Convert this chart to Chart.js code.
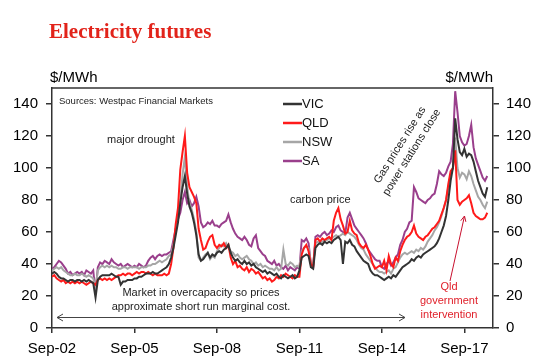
<!DOCTYPE html>
<html lang="en">
<head>
  <meta charset="UTF-8" />
  <title>Electricity futures</title>
  <script src="https://cdn.jsdelivr.net/npm/chart.js"></script>
  <style>
    html, body { margin: 0; padding: 0; background: #fff; }
    canvas { display: block; }
  </style>
</head>
<body>
  <canvas id="chart" width="540" height="364"></canvas>

  <script>
    // monthly values, month 0 = Sep-02
    const vic = [
      34,35,34,32,31,31,30,29,30,30,29,30,
      30,29,30,29,30,29,28,19,30,32,33,33,
      33,33,34,33,32,32,27,29,29,30,30,30,
      31,31,32,32,33,34,34,34,35,34,34,35,
      36,37,38,40,44,50,58,66,78,88,95,84,
      76,72,66,58,46,42,43,45,47,44,46,45,
      47,48,47,49,50,52,47,44,42,43,41,40,
      42,40,41,39,40,38,37,36,35,36,34,35,
      34,33,34,32,31,33,32,31,32,33,31,32,
      36,44,45,46,45,38,37,50,52,53,52,54,
      53,54,53,55,56,57,55,40,54,53,55,52,
      51,48,46,44,42,41,40,36,34,33,33,32,
      31,30,31,32,31,33,32,34,36,38,39,40,
      41,43,42,44,45,44,46,47,48,49,50,51,
      53,56,60,64,70,80,92,100,131,118,110,108,
      112,107,109,108,104,98,92,88,84,82,88
    ];
    const qld = [
      32,33,31,30,29,30,28,29,28,29,28,29,
      28,29,28,27,28,29,28,27,30,31,30,31,
      30,31,30,31,32,33,33,34,33,34,34,33,
      34,35,34,35,35,34,35,34,33,34,33,33,
      33,34,33,34,40,50,65,75,99,110,120,97,
      88,85,82,78,62,55,49,50,54,57,58,52,
      50,52,51,53,50,52,44,40,42,38,39,37,
      36,38,35,37,36,34,35,33,31,32,30,31,
      29,30,32,31,33,32,34,33,32,31,33,32,
      32,46,50,52,48,40,38,55,56,54,56,55,
      56,57,55,67,72,75,68,64,59,60,67,61,
      59,58,53,51,50,52,49,45,40,37,38,39,
      38,42,36,45,40,38,44,42,48,52,55,57,
      58,60,64,59,57,56,55,57,58,60,62,63,
      65,67,71,75,80,90,98,100,111,80,77,79,
      80,81,83,78,72,70,69,68,68,69,72
    ];
    const nsw = [
      36,37,38,37,38,36,35,34,33,33,34,33,
      33,34,33,32,33,32,31,25,36,38,39,38,
      39,38,39,38,38,37,37,38,38,37,38,38,
      38,38,37,38,38,38,39,39,40,40,41,42,
      41,42,43,45,46,52,62,70,80,96,107,88,
      78,74,68,60,44,42,44,46,47,43,45,44,
      48,50,52,51,53,50,48,47,45,46,44,43,
      44,45,43,42,40,41,39,40,38,39,38,37,
      37,36,38,36,37,49,40,39,41,40,38,39,
      38,48,50,51,50,41,40,53,54,53,54,55,
      55,56,56,57,58,57,58,59,58,60,59,58,
      57,55,52,50,49,46,44,42,40,38,36,35,
      35,34,35,36,34,37,38,41,44,46,47,46,
      47,48,47,49,48,50,49,51,54,56,58,61,
      63,66,70,75,80,88,96,100,119,100,94,97,
      96,93,98,95,90,86,82,80,77,75,79
    ];
    const sa = [
      37,38,40,42,41,39,37,34,35,33,34,35,
      34,35,33,36,35,34,36,22,38,41,40,42,
      41,40,43,41,40,39,40,38,39,40,39,38,
      39,38,40,39,38,39,42,44,45,43,45,46,
      45,46,46,47,48,55,62,68,72,80,85,78,
      80,76,78,82,76,66,63,64,66,65,67,64,
      64,63,65,66,67,71,66,62,59,57,56,55,
      57,55,52,51,56,58,50,48,46,45,42,41,
      40,42,39,40,38,37,39,36,38,37,36,38,
      37,55,54,56,53,40,38,57,58,57,59,60,
      58,59,61,60,63,64,61,60,59,69,72,68,
      64,62,60,58,56,53,49,47,45,43,42,42,
      38,37,40,42,39,41,44,46,52,55,60,62,
      66,67,88,85,81,80,79,78,80,81,83,84,
      90,98,96,95,97,101,104,115,148,135,120,116,
      114,115,120,127,113,106,102,98,94,92,95
    ];

    const seriesNames = ['VIC', 'QLD', 'NSW', 'SA'];
    const seriesColors = ['#333333', '#ff1a1a', '#a6a6a6', '#9a3f8c'];
    const xTickMonths = [0, 36, 72, 108, 144, 180];
    const xTickLabels = ['Sep-02', 'Sep-05', 'Sep-08', 'Sep-11', 'Sep-14', 'Sep-17'];
    const yTicks = [0, 20, 40, 60, 80, 100, 120, 140];

    const FONT = "'Liberation Sans', Arial, sans-serif";

    const toPoints = arr => arr.map((v, i) => ({ x: i, y: v }));

    // texts, legend, frame and arrows
    const extras = {
      id: 'extras',
      afterDraw(chart) {
        const c = chart.ctx;
        const a = chart.chartArea;
        c.save();

        // top border of the box
        c.strokeStyle = '#333';
        c.lineWidth = 1.5;
        c.beginPath();
        c.moveTo(a.left, a.top);
        c.lineTo(a.right, a.top);
        c.stroke();

        // title
        c.fillStyle = '#e2231a';
        c.font = "bold 21px 'Liberation Serif', 'Times New Roman', serif";
        c.textAlign = 'left';
        c.textBaseline = 'alphabetic';
        c.fillText('Electricity futures', 49, 38);

        // unit labels
        c.fillStyle = '#000';
        c.font = '15px ' + FONT;
        c.textBaseline = 'middle';
        c.fillText('$/MWh', 50, 78);
        c.textAlign = 'right';
        c.fillText('$/MWh', 493, 78);

        // source
        c.textAlign = 'left';
        c.fillStyle = '#222';
        c.font = '9.5px ' + FONT;
        c.fillText('Sources: Westpac Financial Markets', 59, 101);

        // legend
        c.font = '13px ' + FONT;
        seriesNames.forEach((name, i) => {
          const y = 104 + i * 19;
          c.strokeStyle = seriesColors[i];
          c.lineWidth = 2.5;
          c.beginPath();
          c.moveTo(283, y);
          c.lineTo(302, y);
          c.stroke();
          c.fillStyle = '#111';
          c.fillText(name, 302, y);
        });

        // annotations
        c.fillStyle = '#222';
        c.font = '11px ' + FONT;
        c.fillText('major drought', 107, 140);
        c.fillText('carbon price', 290, 200);

        c.textAlign = 'center';
        c.fillText('Market in overcapacity so prices', 201, 293);
        c.fillText('approximate short run marginal cost.', 201, 307);

        c.save();
        c.translate(400, 145);
        c.rotate(-58 * Math.PI / 180);
        c.fillText('Gas prices rise as', 0, 0);
        c.fillText('power stations close', 0, 14);
        c.restore();

        c.fillStyle = '#e0202a';
        c.fillText('Qld', 449, 287);
        c.fillText('government', 449, 301);
        c.fillText('intervention', 449, 315);

        // horizontal double arrow
        c.strokeStyle = '#444';
        c.lineWidth = 1;
        c.beginPath();
        c.moveTo(57, 317.5);
        c.lineTo(405, 317.5);
        c.moveTo(63, 314);
        c.lineTo(57, 317.5);
        c.lineTo(63, 321);
        c.moveTo(399, 314);
        c.lineTo(405, 317.5);
        c.lineTo(399, 321);
        c.stroke();

        // red arrow to the Qld drop
        const x0 = 450, y0 = 281, x1 = 464.5, y1 = 216;
        const ang = Math.atan2(y1 - y0, x1 - x0);
        c.strokeStyle = '#c8102e';
        c.beginPath();
        c.moveTo(x0, y0);
        c.lineTo(x1, y1);
        c.moveTo(x1 - 6 * Math.cos(ang - 0.45), y1 - 6 * Math.sin(ang - 0.45));
        c.lineTo(x1, y1);
        c.lineTo(x1 - 6 * Math.cos(ang + 0.45), y1 - 6 * Math.sin(ang + 0.45));
        c.stroke();

        c.restore();
      }
    };

    const yAxis = (pos, width, pad) => ({
      position: pos,
      min: 0,
      max: 150,
      afterBuildTicks: s => { s.ticks = yTicks.map(v => ({ value: v })); },
      afterFit: s => { s.width = width; },
      ticks: { color: '#000', font: { family: FONT, size: 15 }, padding: pad },
      grid: { drawOnChartArea: false, tickLength: 6, color: '#333', lineWidth: 1.5 },
      border: { color: '#333', width: 1.5 }
    });

    new Chart(document.getElementById('chart').getContext('2d'), {
      type: 'line',
      data: {
        datasets: [vic, qld, nsw, sa].map((arr, i) => ({
          label: seriesNames[i],
          data: toPoints(arr),
          borderColor: seriesColors[i],
          borderWidth: 2,
          pointRadius: 0,
          tension: 0,
          yAxisID: 'y'
        }))
      },
      options: {
        responsive: false,
        animation: false,
        devicePixelRatio: 1,
        layout: { padding: { top: 88, left: 0, right: 0, bottom: 0 } },
        plugins: { legend: { display: false }, tooltip: { enabled: false } },
        scales: {
          x: {
            type: 'linear',
            min: 0,
            max: 192.5,
            afterBuildTicks: s => { s.ticks = xTickMonths.map(v => ({ value: v })); },
            afterFit: s => { s.height = 36; },
            ticks: {
              color: '#000',
              font: { family: FONT, size: 15 },
              padding: 7,
              maxRotation: 0,
              autoSkip: false,
              callback: (v, i) => xTickLabels[i]
            },
            grid: { drawOnChartArea: false, tickLength: 5, color: '#333', lineWidth: 1.5 },
            border: { color: '#333', width: 1.5 }
          },
          y: yAxis('left', 52, 8),
          y2: yAxis('right', 47, 7)
        }
      },
      plugins: [extras]
    });
  </script>
</body>
</html>
